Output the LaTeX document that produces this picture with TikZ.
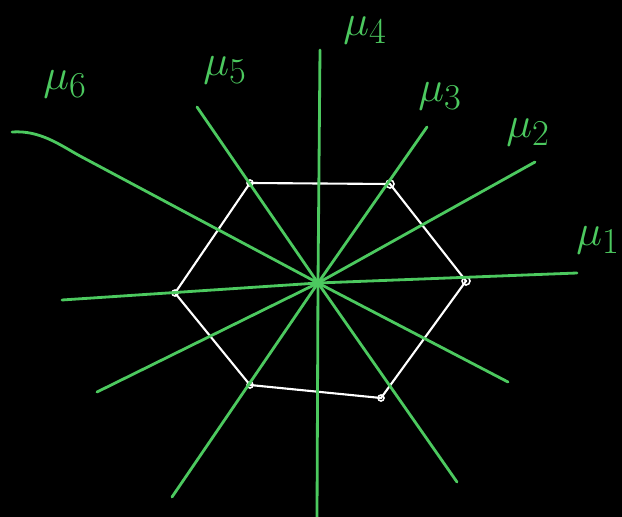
\documentclass[tikz,border=0pt]{standalone}
\usepackage{amsmath}
\usepackage{tikz}

\definecolor{penGreen}{RGB}{76,201,95}

\begin{document}
\begin{tikzpicture}[x=0.02cm, y=-0.02cm,
		mu/.style={penGreen, line width=1.6pt, line cap=round, line join=round},
		edge/.style={white, line width=1.2pt, line cap=round},
		vert/.style={white, line width=0.9pt},
		lab/.style={penGreen, font=\fontsize{30}{32}\selectfont}]
		\fill[black] (0,0) rectangle (622,517);
		\useasboundingbox (0,0) rectangle (622,517);

		\coordinate (O) at (318, 283);

		\coordinate (H1) at (466, 281);
		\coordinate (H2) at (390, 184);
		\coordinate (H3) at (250, 183);
		\coordinate (H4) at (175, 293);
		\coordinate (H5) at (250, 385);
		\coordinate (H6) at (381, 398);

		\coordinate (A1) at (577, 273);
		\coordinate (B1) at (62, 300);
		\coordinate (A2) at (535, 162);
		\coordinate (B2) at (97, 392);
		\coordinate (A3) at (427, 127);
		\coordinate (B3) at (172, 497);
		\coordinate (A4) at (320, 50);
		\coordinate (B4) at (317, 517);
		\coordinate (A5) at (197, 107);
		\coordinate (B5) at (457, 482);
		\coordinate (A6) at (12, 132);
		\coordinate (K6) at (80, 156);
		\coordinate (B6) at (508, 382);

		\draw[edge] (H1) -- (H2) -- (H3) -- (H4) -- (H5) -- (H6) -- cycle;

		\draw[vert] (H1) circle (4);
		\draw[vert] (H2) circle (4);
		\draw[vert] (H3) circle (3);
		\draw[vert] (H4) circle (3);
		\draw[vert] (H5) circle (3);
		\draw[vert] (H6) circle (3);

		\draw[mu] (B1) -- (O) -- (A1);
		\draw[mu] (B2) -- (O) -- (A2);
		\draw[mu] (B3) -- (O) -- (A3);
		\draw[mu] (B4) -- (O) -- (A4);
		\draw[mu] (A5) -- (O) -- (B5);
		\draw[mu] (A6) .. controls (40, 130) and (60, 145) .. (K6) -- (O) -- (B6);

		\node[lab] (L1) at (598, 240) {$\mu_1$};
		\node[lab] (L2) at (528, 132) {$\mu_2$};
		\node[lab] (L3) at (440, 96) {$\mu_3$};
		\node[lab] (L4) at (365, 30) {$\mu_4$};
		\node[lab] (L5) at (225, 70) {$\mu_5$};
		\node[lab] (L6) at (65, 84) {$\mu_6$};
	\end{tikzpicture}
\end{document}
